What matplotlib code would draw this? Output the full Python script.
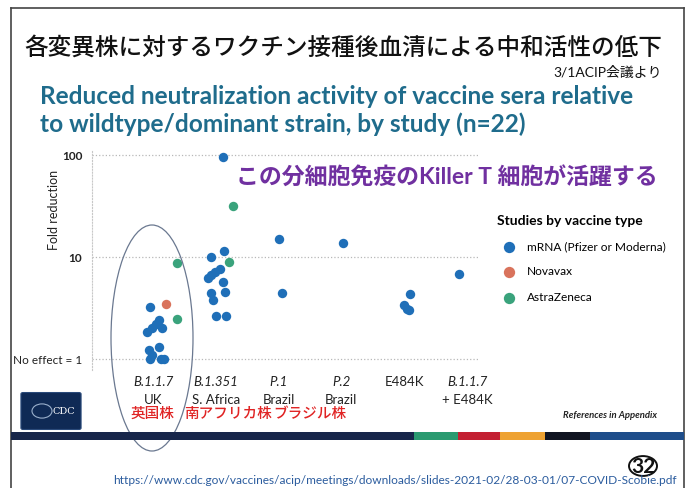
import matplotlib
matplotlib.use('Agg')
import matplotlib.pyplot as plt
from matplotlib.patches import Ellipse, Rectangle, FancyBboxPatch, Circle
from matplotlib.ticker import NullLocator

plt.rcParams['font.family'] = ['Lato', 'Noto Sans CJK JP', 'DejaVu Sans']

# categories on the x axis
strains = ['B.1.1.7', 'B.1.351', 'P.1', 'P.2', 'E484K', 'B.1.1.7']
regions = ['UK', 'S. Africa', 'Brazil', 'Brazil', '', '+ E484K']
jp_names = ['英国株', '南アフリカ株', 'ブラジル株']

# mRNA (Pfizer or Moderna) studies: category, jitter, fold reduction
mrna_cat = [0] * 12 + [1] * 13 + [2, 2, 3, 4, 4, 4, 4, 5]
mrna_off = [-0.04, 0.10, 0.05, 0.15, -0.02, -0.09, 0.10, -0.07, -0.02, -0.05, 0.12, 0.18,
            0.12, -0.08, 0.13, 0.07, -0.01, -0.08, -0.12, 0.11, 0.14, -0.07, -0.04, 0.01, 0.16,
            0.0, 0.06, 0.03, 0.10, -0.01, 0.05, 0.08, -0.13]
mrna_fold = [3.2, 2.4, 2.2, 2.0, 2.0, 1.85, 1.3, 1.22, 1.1, 1.0, 1.0, 1.0,
             95, 10, 11.4, 7.6, 7.2, 6.6, 6.2, 5.65, 4.55, 4.4, 3.8, 2.66, 2.66,
             15, 4.4, 13.6, 4.3, 3.4, 3.1, 3.0, 6.8]

# Novavax
nova_cat = [0]
nova_off = [0.21]
nova_fold = [3.5]

# AstraZeneca
az_cat = [0, 0, 1, 1]
az_off = [0.38, 0.39, 0.27, 0.21]
az_fold = [8.8, 2.45, 31.6, 8.9]

W, H = 688, 488


def fx(px):
    return px / W


def fy(py):
    return 1 - py / H


fig = plt.figure(figsize=(W / 100, H / 100), dpi=100)
fig.patch.set_facecolor('white')

# slide frame
fig.add_artist(plt.Line2D([fx(11), fx(11)], [0, fy(8)], color='#444444', lw=1.2))
fig.add_artist(plt.Line2D([fx(11), fx(684)], [fy(8), fy(8)], color='#444444', lw=1.2))
fig.add_artist(plt.Line2D([fx(684), fx(684)], [0, fy(8)], color='#444444', lw=1.2))

# titles
fig.text(fx(343), fy(47), '各変異株に対するワクチン接種後血清による中和活性の低下',
         ha='center', va='center', fontsize=17, fontweight='medium', color='#111111')
fig.text(fx(662), fy(72), '3/1ACIP会議より', ha='right', va='center',
         fontsize=10, color='#111111')
fig.text(fx(40), fy(96), 'Reduced neutralization activity of vaccine sera relative',
         ha='left', va='center', fontsize=17.6, fontweight='bold', color='#1f6c8c')
fig.text(fx(40), fy(124), 'to wildtype/dominant strain, by study (n=22)',
         ha='left', va='center', fontsize=17.6, fontweight='bold', color='#1f6c8c')

# chart
ax = fig.add_axes([fx(92), fy(370), (480 - 92) / W, (370 - 150) / H])
ax.set_facecolor('none')
blue = '#1f6fb8'
orange = '#d9735c'
green = '#3aa37c'

mx = [c + o for c, o in zip(mrna_cat, mrna_off)]
nx = [c + o for c, o in zip(nova_cat, nova_off)]
gx = [c + o for c, o in zip(az_cat, az_off)]
h1 = ax.scatter(mx, mrna_fold, s=46, color=blue, lw=0, zorder=3, label='mRNA (Pfizer or Moderna)')
h2 = ax.scatter(nx, nova_fold, s=46, color=orange, lw=0, zorder=3, label='Novavax')
h3 = ax.scatter(gx, az_fold, s=46, color=green, lw=0, zorder=3, label='AstraZeneca')

ax.set_yscale('log')
ax.set_ylim(10 ** (-11 / 102), 10 ** (209 / 102))
ax.set_xlim((92 - 153) / 62.8, (480 - 153) / 62.8)
ax.yaxis.set_minor_locator(NullLocator())
ax.set_yticks([1, 10, 100])
ax.set_yticklabels(['No effect = 1', '10', '100'], fontsize=8.5)
for lab in ax.get_yticklabels()[1:]:
    lab.set_fontweight('bold')
ax.tick_params(axis='y', length=0, pad=7, colors='#222222')
ax.set_xticks([])
ax.grid(axis='y', linestyle=':', color='#b8b8b8', lw=0.9)
for s in ['top', 'right', 'bottom']:
    ax.spines[s].set_visible(False)
ax.spines['left'].set_linestyle(':')
ax.spines['left'].set_color('#c8c8c8')
ax.set_ylabel('Fold reduction', fontsize=9, color='#222222')
ax.yaxis.set_label_coords(-0.082, 0.727)

for i, (st, rg) in enumerate(zip(strains, regions)):
    style = 'normal' if st == 'E484K' else 'italic'
    ax.text(i, -0.055, st, transform=ax.get_xaxis_transform(), ha='center', va='center',
            fontsize=9.5, fontstyle=style, color='#222222')
    ax.text(i, -0.137, rg, transform=ax.get_xaxis_transform(), ha='center', va='center',
            fontsize=9.5, color='#222222')

leg = ax.legend(handles=[h1, h2, h3], title='Studies by vaccine type', frameon=False,
                loc='upper left', bbox_to_anchor=(fx(486), fy(204)),
                bbox_transform=fig.transFigure, fontsize=8.6, title_fontsize=10,
                labelspacing=1.2, handletextpad=0.5, markerscale=1.2, alignment='left')
leg.get_title().set_fontweight('bold')

# purple note
fig.text(fx(658), fy(177), 'この分細胞免疫のKiller T 細胞が活躍する', ha='right', va='center',
         fontsize=16.5, fontweight='bold', color='#7030a0')

# red japanese labels
for name, cx in zip(jp_names, [152, 228, 310]):
    fig.text(fx(cx), fy(414), name, ha='center', va='center', fontsize=10.5,
             fontweight='medium', color='#e02424')

# ellipse around UK cluster
fig.add_artist(Ellipse((fx(152), fy(338)), 82 / W, 226 / H, transform=fig.transFigure,
                       fill=False, ec='#6a7890', lw=0.9, zorder=1))

# CDC logo box
fig.add_artist(FancyBboxPatch((fx(23), fy(428)), 56 / W, 34 / H, boxstyle='round,pad=0.003',
                              transform=fig.transFigure, fc='#0f2a55', ec='#2a4a7a', lw=0.8))
fig.text(fx(64), fy(411), 'CDC', ha='center', va='center', fontsize=7, color='white',
         family='DejaVu Serif')
fig.add_artist(Circle((fx(42), fy(411)), 10 / W, transform=fig.transFigure, fill=False,
                      ec='#9ab0cc', lw=0.8))

fig.text(fx(657), fy(416), 'References in Appendix', ha='right', va='center', fontsize=6.8,
         fontstyle='italic', fontweight='bold', color='#222222')

# bottom stripe
stripe = [(11, 414, '#17264a'), (414, 458, '#2a9a70'), (458, 500, '#c32032'),
          (500, 545, '#eea232'), (545, 590, '#111522'), (590, 684, '#1e4d8a')]
for x0, x1, c in stripe:
    fig.add_artist(Rectangle((fx(x0), fy(440)), (x1 - x0) / W, 8 / H, transform=fig.transFigure,
                             fc=c, ec='none', zorder=2))

fig.text(fx(113), fy(481), 'https://www.cdc.gov/vaccines/acip/meetings/downloads/slides-2021-02/28-03-01/07-COVID-Scobie.pdf',
         ha='left', va='center', fontsize=8.6, color='#2b5c9e')
fig.add_artist(Circle((fx(643), fy(466)), 14 / W, transform=fig.transFigure, fc='white',
                      ec='#111111', lw=1.4, zorder=3))
fig.text(fx(643), fy(467), '32', ha='center', va='center', fontsize=15, fontweight='bold',
         color='#111111', zorder=4)

fig.savefig('out.png', dpi=100)
